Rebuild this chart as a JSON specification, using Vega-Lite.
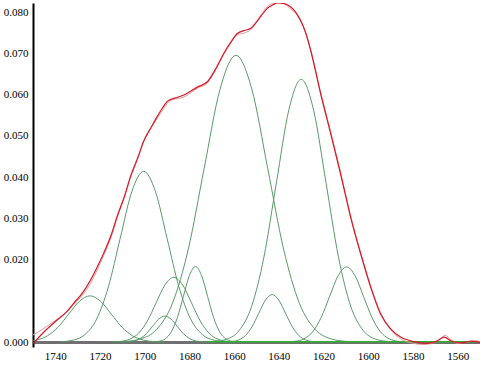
{
"$schema": "https://vega.github.io/schema/vega-lite/v6.json",
"width": 447, "height": 344,
"autosize": {"type": "none"},
"padding": {"left": 33, "top": 3, "right": 0, "bottom": 18},
"background": "white",
"config": {"view": {"stroke": null}, "axis": {"labelFont": "Liberation Serif", "labelFontSize": 11, "labelColor": "#000", "grid": false, "ticks": false, "title": null}},
"datasets": {
"comp": [
{"c":"C1","x":1757.75,"y":0.00002},{"c":"C1","x":1753,"y":0.00012},{"c":"C1","x":1748.25,"y":0.00049},{"c":"C1","x":1743.5,"y":0.00152},{"c":"C1","x":1738.75,"y":0.00364},{"c":"C1","x":1734,"y":0.00679},{"c":"C1","x":1729.25,"y":0.00988},{"c":"C1","x":1724.5,"y":0.0112},{"c":"C1","x":1719.75,"y":0.00988},{"c":"C1","x":1715,"y":0.00679},{"c":"C1","x":1710.25,"y":0.00364},{"c":"C1","x":1705.5,"y":0.00152},{"c":"C1","x":1700.75,"y":0.00049},{"c":"C1","x":1696,"y":0.00012},{"c":"C1","x":1691.25,"y":0.00002},
{"c":"C2","x":1737.25,"y":0.00009},{"c":"C2","x":1732,"y":0.00046},{"c":"C2","x":1726.75,"y":0.00182},{"c":"C2","x":1721.5,"y":0.0056},{"c":"C2","x":1716.25,"y":0.01344},{"c":"C2","x":1711,"y":0.02511},{"c":"C2","x":1705.75,"y":0.03654},{"c":"C2","x":1700.5,"y":0.0414},{"c":"C2","x":1695.25,"y":0.03654},{"c":"C2","x":1690,"y":0.02511},{"c":"C2","x":1684.75,"y":0.01344},{"c":"C2","x":1679.5,"y":0.0056},{"c":"C2","x":1674.25,"y":0.00182},{"c":"C2","x":1669,"y":0.00046},{"c":"C2","x":1663.75,"y":0.00009},
{"c":"C3","x":1714.65,"y":0.00003},{"c":"C3","x":1710.7,"y":0.00017},{"c":"C3","x":1706.75,"y":0.00069},{"c":"C3","x":1702.8,"y":0.00212},{"c":"C3","x":1698.85,"y":0.0051},{"c":"C3","x":1694.9,"y":0.00952},{"c":"C3","x":1690.95,"y":0.01386},{"c":"C3","x":1687,"y":0.0157},{"c":"C3","x":1683.05,"y":0.01386},{"c":"C3","x":1679.1,"y":0.00952},{"c":"C3","x":1675.15,"y":0.0051},{"c":"C3","x":1671.2,"y":0.00212},{"c":"C3","x":1667.25,"y":0.00069},{"c":"C3","x":1663.3,"y":0.00017},{"c":"C3","x":1659.35,"y":0.00003},
{"c":"C4","x":1710.25,"y":0.00001},{"c":"C4","x":1707.5,"y":0.00007},{"c":"C4","x":1704.75,"y":0.00028},{"c":"C4","x":1702,"y":0.00085},{"c":"C4","x":1699.25,"y":0.00205},{"c":"C4","x":1696.5,"y":0.00382},{"c":"C4","x":1693.75,"y":0.00556},{"c":"C4","x":1691,"y":0.0063},{"c":"C4","x":1688.25,"y":0.00556},{"c":"C4","x":1685.5,"y":0.00382},{"c":"C4","x":1682.75,"y":0.00205},{"c":"C4","x":1680,"y":0.00085},{"c":"C4","x":1677.25,"y":0.00028},{"c":"C4","x":1674.5,"y":0.00007},{"c":"C4","x":1671.75,"y":0.00001},
{"c":"C5","x":1696.2,"y":0.00004},{"c":"C5","x":1693.5,"y":0.0002},{"c":"C5","x":1690.8,"y":0.0008},{"c":"C5","x":1688.1,"y":0.00248},{"c":"C5","x":1685.4,"y":0.00594},{"c":"C5","x":1682.7,"y":0.0111},{"c":"C5","x":1680,"y":0.01615},{"c":"C5","x":1677.3,"y":0.0183},{"c":"C5","x":1674.6,"y":0.01615},{"c":"C5","x":1671.9,"y":0.0111},{"c":"C5","x":1669.2,"y":0.00594},{"c":"C5","x":1666.5,"y":0.00248},{"c":"C5","x":1663.8,"y":0.0008},{"c":"C5","x":1661.1,"y":0.0002},{"c":"C5","x":1658.4,"y":0.00004},
{"c":"C6","x":1708.9,"y":0.00015},{"c":"C6","x":1701.8,"y":0.00077},{"c":"C6","x":1694.7,"y":0.00305},{"c":"C6","x":1687.6,"y":0.0094},{"c":"C6","x":1680.5,"y":0.02257},{"c":"C6","x":1673.4,"y":0.04215},{"c":"C6","x":1666.3,"y":0.06133},{"c":"C6","x":1659.2,"y":0.0695},{"c":"C6","x":1652.1,"y":0.06133},{"c":"C6","x":1645,"y":0.04215},{"c":"C6","x":1637.9,"y":0.02257},{"c":"C6","x":1630.8,"y":0.0094},{"c":"C6","x":1623.7,"y":0.00305},{"c":"C6","x":1616.6,"y":0.00077},{"c":"C6","x":1609.5,"y":0.00015},
{"c":"C7","x":1664,"y":0.00003},{"c":"C7","x":1661,"y":0.00013},{"c":"C7","x":1658,"y":0.0005},{"c":"C7","x":1655,"y":0.00156},{"c":"C7","x":1652,"y":0.00373},{"c":"C7","x":1649,"y":0.00697},{"c":"C7","x":1646,"y":0.01015},{"c":"C7","x":1643,"y":0.0115},{"c":"C7","x":1640,"y":0.01015},{"c":"C7","x":1637,"y":0.00697},{"c":"C7","x":1634,"y":0.00373},{"c":"C7","x":1631,"y":0.00156},{"c":"C7","x":1628,"y":0.0005},{"c":"C7","x":1625,"y":0.00013},{"c":"C7","x":1622,"y":0.00003},
{"c":"C8","x":1668.85,"y":0.00014},{"c":"C8","x":1663.3,"y":0.00071},{"c":"C8","x":1657.75,"y":0.0028},{"c":"C8","x":1652.2,"y":0.00862},{"c":"C8","x":1646.65,"y":0.02068},{"c":"C8","x":1641.1,"y":0.03863},{"c":"C8","x":1635.55,"y":0.05622},{"c":"C8","x":1630,"y":0.0637},{"c":"C8","x":1624.45,"y":0.05622},{"c":"C8","x":1618.9,"y":0.03863},{"c":"C8","x":1613.35,"y":0.02068},{"c":"C8","x":1607.8,"y":0.00862},{"c":"C8","x":1602.25,"y":0.0028},{"c":"C8","x":1596.7,"y":0.00071},{"c":"C8","x":1591.15,"y":0.00014},
{"c":"C9","x":1636.3,"y":0.00004},{"c":"C9","x":1632.5,"y":0.0002},{"c":"C9","x":1628.7,"y":0.0008},{"c":"C9","x":1624.9,"y":0.00246},{"c":"C9","x":1621.1,"y":0.00591},{"c":"C9","x":1617.3,"y":0.01104},{"c":"C9","x":1613.5,"y":0.01606},{"c":"C9","x":1609.7,"y":0.0182},{"c":"C9","x":1605.9,"y":0.01606},{"c":"C9","x":1602.1,"y":0.01104},{"c":"C9","x":1598.3,"y":0.00591},{"c":"C9","x":1594.5,"y":0.00246},{"c":"C9","x":1590.7,"y":0.0008},{"c":"C9","x":1586.9,"y":0.0002},{"c":"C9","x":1583.1,"y":0.00004}
],
"base": [{"x":1672,"y":0.0001},{"x":1552,"y":0.0001}],
"measured": [
{"x":1750,"y":0.0017},{"x":1746,"y":0.003},{"x":1742,"y":0.0045},{"x":1739.3,"y":0.0055},{"x":1735,"y":0.0072},{"x":1731.8,"y":0.0091},{"x":1728,"y":0.0113},{"x":1724.3,"y":0.0142},{"x":1721,"y":0.0178},{"x":1718.4,"y":0.021},{"x":1715,"y":0.0255},{"x":1712.4,"y":0.03},{"x":1709,"y":0.0352},{"x":1706.4,"y":0.0398},{"x":1703,"y":0.0446},{"x":1700.5,"y":0.0486},{"x":1697,"y":0.052},{"x":1694.5,"y":0.0542},{"x":1692,"y":0.0562},{"x":1690,"y":0.0578},{"x":1687.5,"y":0.0588},{"x":1685.5,"y":0.059},{"x":1682,"y":0.0595},{"x":1679,"y":0.0606},{"x":1676.5,"y":0.0615},{"x":1672,"y":0.0628},{"x":1668,"y":0.0662},{"x":1664.6,"y":0.0698},{"x":1661.5,"y":0.0725},{"x":1658.6,"y":0.0745},{"x":1655,"y":0.075},{"x":1652.7,"y":0.0757},{"x":1651.2,"y":0.0766},{"x":1648,"y":0.0793},{"x":1645.2,"y":0.0813},{"x":1642.5,"y":0.0822},{"x":1640.7,"y":0.0824},{"x":1638.5,"y":0.0822},{"x":1636.5,"y":0.0816},{"x":1634.8,"y":0.0808},{"x":1632.5,"y":0.0797},{"x":1630.3,"y":0.0778},{"x":1628,"y":0.0749},{"x":1625.8,"y":0.0709},{"x":1621.3,"y":0.0605},{"x":1616.8,"y":0.051},{"x":1612.4,"y":0.0412},{"x":1607.9,"y":0.0307},{"x":1603.4,"y":0.0217},{"x":1598.9,"y":0.0136},{"x":1594.5,"y":0.0072},{"x":1590,"y":0.003},{"x":1585.5,"y":0.0008},{"x":1580,"y":-0.0003},{"x":1575,"y":-0.0006},{"x":1571,"y":-0.0002},{"x":1568,"y":0.0008},{"x":1565.5,"y":0.0016},{"x":1563,"y":0.0006},{"x":1560,"y":-0.0003},{"x":1556,"y":0.0},{"x":1553,"y":0.0004},{"x":1550,"y":0.0001}
],
"fit": [
{"x":1750,"y":-0.0004},{"x":1745,"y":0.0025},{"x":1739.3,"y":0.0053},{"x":1735,"y":0.0073},{"x":1731.8,"y":0.0094},{"x":1728,"y":0.0118},{"x":1724.3,"y":0.015},{"x":1721,"y":0.0185},{"x":1718.4,"y":0.0215},{"x":1715,"y":0.026},{"x":1712.4,"y":0.0304},{"x":1709,"y":0.0355},{"x":1706.4,"y":0.0401},{"x":1703,"y":0.0449},{"x":1700.5,"y":0.0487},{"x":1697,"y":0.0522},{"x":1694.5,"y":0.0546},{"x":1692,"y":0.0568},{"x":1690,"y":0.0583},{"x":1687.5,"y":0.059},{"x":1685.5,"y":0.0593},{"x":1682,"y":0.06},{"x":1679,"y":0.061},{"x":1676.5,"y":0.0618},{"x":1672,"y":0.0631},{"x":1668,"y":0.0665},{"x":1664.6,"y":0.07},{"x":1661.5,"y":0.0727},{"x":1658.6,"y":0.0748},{"x":1655,"y":0.0756},{"x":1652.7,"y":0.076},{"x":1651.2,"y":0.0768},{"x":1648,"y":0.079},{"x":1645.2,"y":0.0809},{"x":1642.5,"y":0.0818},{"x":1640.7,"y":0.0822},{"x":1638,"y":0.0821},{"x":1634.8,"y":0.0813},{"x":1632.5,"y":0.08},{"x":1630.3,"y":0.078},{"x":1628,"y":0.075},{"x":1625.8,"y":0.0708},{"x":1621.3,"y":0.0602},{"x":1616.8,"y":0.0505},{"x":1612.4,"y":0.0408},{"x":1607.9,"y":0.0303},{"x":1603.4,"y":0.0214},{"x":1598.9,"y":0.0133},{"x":1594.5,"y":0.0068},{"x":1590,"y":0.0032},{"x":1585.5,"y":0.0012},{"x":1579.5,"y":0.0001},{"x":1573.5,"y":-0.0003},{"x":1569,"y":0.0003},{"x":1566,"y":0.0012},{"x":1563.1,"y":0.0003},{"x":1558.6,"y":-0.0002},{"x":1554.2,"y":0.0002},{"x":1550,"y":0.0}
]
},
"encoding": {
"x": {"field": "x", "type": "quantitative", "scale": {"domain": [1550, 1750], "reverse": true, "nice": false, "zero": false},
 "axis": {"values": [1740,1720,1700,1680,1660,1640,1620,1600,1580,1560], "format": "d", "offset": -5, "domainColor": "#707070", "domainWidth": 3, "labelPadding": 8}},
"y": {"field": "y", "type": "quantitative", "scale": {"domain": [-0.0012, 0.0822], "nice": false, "zero": false},
 "axis": {"values": [0,0.02,0.03,0.04,0.05,0.06,0.07,0.08], "format": ".3f", "domainColor": "#000000", "domainWidth": 2, "labelPadding": 5}}
},
"layer": [
{"data": {"name": "comp"}, "mark": {"type": "line", "interpolate": "monotone", "clip": true, "strokeWidth": 1, "color": "#5a9a68"}, "encoding": {"detail": {"field": "c"}}},
{"data": {"name": "base"}, "mark": {"type": "line", "clip": true, "strokeWidth": 1.5, "color": "#2fb02f"}, "encoding": {}},
{"data": {"name": "measured"}, "mark": {"type": "line", "interpolate": "monotone", "clip": true, "strokeWidth": 1, "color": "#e39a9a"}, "encoding": {}},
{"data": {"name": "fit"}, "mark": {"type": "line", "interpolate": "monotone", "clip": true, "strokeWidth": 1.2, "color": "#d41a28"}, "encoding": {}}
]
}
